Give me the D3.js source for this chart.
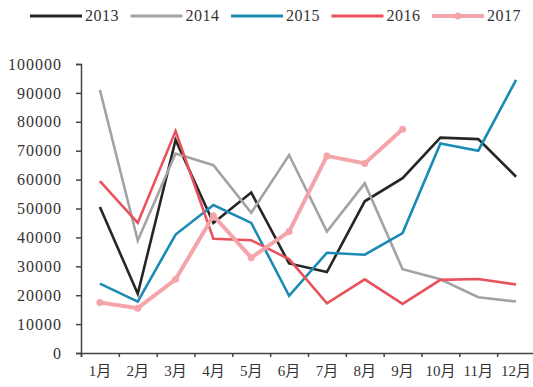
<!doctype html>
<html>
  <head>
    <meta charset="utf-8">
    <title>Monthly chart 2013-2017</title>
    <script src="https://cdnjs.cloudflare.com/ajax/libs/d3/7.8.5/d3.min.js"></script>
    <style>
      body { margin: 0; background: #fff; }
    </style>
  </head>
  <body>
    <div id="chart"></div>
    <script>
      // data
      const months = ['1月','2月','3月','4月','5月','6月','7月','8月','9月','10月','11月','12月'];
      const years = ['2013','2014','2015','2016','2017'];
      const v2013 = [50500, 20500, 73700, 45000, 55500, 31000, 28000, 52500, 60500, 74500, 74000, 61000];
      const v2014 = [91000, 38900, 69000, 65000, 48500, 68500, 42000, 58700, 29000, 25500, 19300, 17800];
      const v2015 = [24000, 17800, 41000, 51200, 45000, 19800, 34700, 34000, 41500, 72500, 70000, 94500];
      const v2016 = [59500, 45000, 76800, 39500, 39000, 32500, 17200, 25500, 17000, 25300, 25600, 23700];
      const v2017 = [17500, 15500, 25500, 47500, 33000, 42000, 68200, 65600, 77400];
      const yTicks = [0, 10000, 20000, 30000, 40000, 50000, 60000, 70000, 80000, 90000, 100000];

      const colors = ['#262626', '#a3a3a3', '#1b8bb4', '#e9525d', '#f5a5aa'];
      const widths = [2.6, 2.6, 2.6, 2.6, 4];
      const series = [v2013, v2014, v2015, v2016, v2017];
      const font = '"Liberation Serif", "Times New Roman", "Noto Sans CJK SC", serif';

      const svg = d3.select('#chart').append('svg')
        .attr('width', 533)
        .attr('height', 387);

      const x = d3.scaleBand().domain(months).range([81, 535]);
      const y = d3.scaleLinear().domain([0, 100000]).range([353, 64]);

      // y axis
      const yAxis = svg.append('g')
        .attr('transform', 'translate(81,0)')
        .call(d3.axisLeft(y).tickValues(yTicks).tickSize(5).tickPadding(14).tickFormat(d3.format('d')));
      yAxis.selectAll('text').style('font-size', '16px').style('letter-spacing', '1px');

      // x axis: tick marks at band edges, labels at centres
      const xEdges = d3.scaleLinear().domain([0, 12]).range([81, 535]);
      svg.append('g')
        .attr('transform', 'translate(0,353)')
        .call(d3.axisBottom(xEdges).ticks(12).tickSize(4).tickFormat(''));
      const xLabels = svg.append('g')
        .attr('transform', 'translate(0,353)')
        .call(d3.axisBottom(x).tickSize(0).tickPadding(12));
      xLabels.select('.domain').remove();
      xLabels.selectAll('text').style('font-size', '15px');

      svg.selectAll('.domain, .tick line')
        .attr('stroke', '#444')
        .attr('stroke-width', 1.5);

      const line = d3.line()
        .x((d, i) => x(months[i]) + x.bandwidth() / 2)
        .y(d => y(d));

      series.forEach((s, k) => {
        svg.append('path')
          .datum(s)
          .attr('fill', 'none')
          .attr('stroke', colors[k])
          .attr('stroke-width', widths[k])
          .attr('d', line);
      });

      // markers on 2017
      svg.selectAll('circle.m')
        .data(v2017)
        .join('circle')
        .attr('class', 'm')
        .attr('cx', (d, i) => x(months[i]) + x.bandwidth() / 2)
        .attr('cy', d => y(d))
        .attr('r', 3.5)
        .attr('fill', colors[4]);

      // legend
      const legend = svg.selectAll('g.leg')
        .data(years)
        .join('g')
        .attr('class', 'leg')
        .attr('transform', (d, i) => `translate(${30 + i * 100.5},16)`);
      legend.append('line')
        .attr('x1', 0).attr('x2', 52)
        .attr('stroke', (d, i) => colors[i])
        .attr('stroke-width', (d, i) => i == 4 ? 4 : 3);
      legend.filter((d, i) => i == 4).append('circle')
        .attr('cx', 26).attr('r', 3.5).attr('fill', colors[4]);
      legend.append('text')
        .attr('x', 55)
        .attr('y', 5)
        .text(d => d)
        .style('font-size', '16px')
        .style('letter-spacing', '0.5px');

      svg.selectAll('text')
        .style('font-family', font)
        .style('fill', '#333');
    </script>
  </body>
</html>
